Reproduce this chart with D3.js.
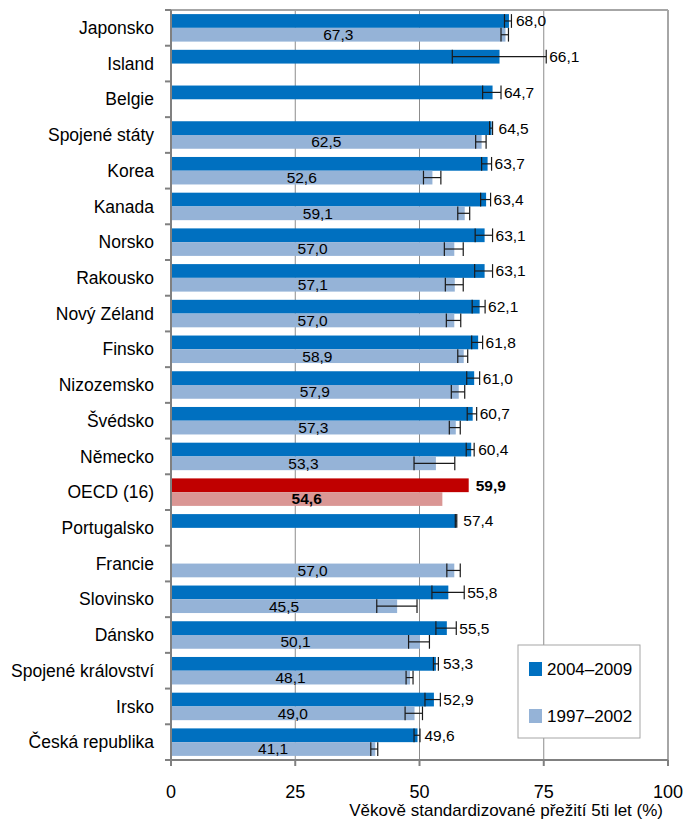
<!DOCTYPE html>
<html>
<head>
<meta charset="utf-8">
<script src="https://cdn.jsdelivr.net/npm/d3@7"></script>
<style>
  body { margin: 0; background: #fff; }
  svg { display: block; font-family: "Liberation Sans", Arial, sans-serif; }
</style>
</head>
<body>
<div id="chart"></div>
<script>
// categories, top to bottom
const categories = ["Japonsko", "Island", "Belgie", "Spojené státy", "Korea", "Kanada", "Norsko",
  "Rakousko", "Nový Zéland", "Finsko", "Nizozemsko", "Švédsko", "Německo", "OECD (16)",
  "Portugalsko", "Francie", "Slovinsko", "Dánsko", "Spojené království", "Irsko", "Česká republika"];

// 2004–2009
const recent = [68.0, 66.1, 64.7, 64.5, 63.7, 63.4, 63.1, 63.1, 62.1, 61.8, 61.0, 60.7, 60.4, 59.9,
  57.4, null, 55.8, 55.5, 53.3, 52.9, 49.6];
const recentLow = [67.1, 56.6, 62.7, 64.1, 62.5, 62.3, 61.2, 61.1, 60.6, 60.5, 59.5, 59.6, 59.4, null,
  57.2, null, 52.5, 53.3, 52.8, 51.1, 48.9];
const recentHigh = [68.5, 75.5, 66.4, 64.7, 64.5, 64.3, 64.7, 64.7, 63.2, 62.7, 62.1, 61.5, 61.0, null,
  57.5, null, 59.0, 57.4, 53.8, 54.2, 50.1];

// 1997–2002
const earlier = [67.3, null, null, 62.5, 52.6, 59.1, 57.0, 57.1, 57.0, 58.9, 57.9, 57.3, 53.3, 54.6,
  null, 57.0, 45.5, 50.1, 48.1, 49.0, 41.1];
const earlierLow = [66.4, null, null, 61.3, 50.8, 57.7, 55.0, 55.2, 55.4, 57.7, 56.4, 56.0, 48.9, null,
  null, 55.5, 41.4, 47.8, 47.3, 47.1, 40.2];
const earlierHigh = [67.9, null, null, 63.4, 54.3, 60.1, 58.8, 58.8, 58.3, 59.7, 59.1, 58.2, 57.1, null,
  null, 58.2, 49.5, 52.0, 48.7, 50.6, 41.6];

const seriesNames = ["2004–2009", "1997–2002"];
const xTicks = [0, 25, 50, 75, 100];
const highlight = "OECD (16)";
const xTitle = "Věkově standardizované přežití 5ti let (%)";

const W = 696, H = 825;
const margin = {top: 10, right: 28, bottom: 65, left: 171};
const width = W - margin.left - margin.right,
      height = H - margin.top - margin.bottom;

const svg = d3.select("#chart").append("svg")
  .attr("width", W).attr("height", H);
const g = svg.append("g")
  .attr("transform", `translate(${margin.left}, ${margin.top})`);

const x = d3.scaleLinear().domain([0, 100]).range([0, width]);
const y = d3.scaleBand().domain(categories).range([0, height])
  .paddingInner(0.23).paddingOuter(0.115);
const ySub = d3.scaleBand().domain(["recent", "earlier"]).range([0, y.bandwidth()]);

// gridlines
g.selectAll(".grid")
  .data(xTicks.filter(t => t > 0 && t < 100))
  .join("line")
    .attr("x1", d => x(d)).attr("x2", d => x(d))
    .attr("y1", 0).attr("y2", height)
    .attr("stroke", "#8c8c8c").attr("stroke-width", 1);

// frame top / right
g.append("line").attr("x1", 0).attr("x2", x(100)).attr("y1", 0).attr("y2", 0)
  .attr("stroke", "#a6a6a6").attr("stroke-width", 2);
g.append("line").attr("x1", x(100)).attr("x2", x(100)).attr("y1", 0).attr("y2", height)
  .attr("stroke", "#a6a6a6").attr("stroke-width", 2);

const rows = categories.map((c, i) => ({
  cat: c, i,
  hot: c === highlight,
  recent: recent[i], rLo: recentLow[i], rHi: recentHigh[i],
  earlier: earlier[i], eLo: earlierLow[i], eHi: earlierHigh[i]
}));

const bh = ySub.bandwidth();

// bars
g.selectAll(".bar-r")
  .data(rows.filter(d => d.recent != null))
  .join("rect")
    .attr("x", 0)
    .attr("y", d => y(d.cat) + ySub("recent"))
    .attr("width", d => x(d.recent))
    .attr("height", bh)
    .attr("fill", d => d.hot ? "#c00000" : "#0070c0");

g.selectAll(".bar-e")
  .data(rows.filter(d => d.earlier != null))
  .join("rect")
    .attr("x", 0)
    .attr("y", d => y(d.cat) + ySub("earlier"))
    .attr("width", d => x(d.earlier))
    .attr("height", bh)
    .attr("fill", d => d.hot ? "#da9694" : "#95b3d7");

// error bars
function errorBars(data, key, lo, hi) {
  const eg = g.append("g").attr("stroke", "#1a1a1a").attr("stroke-width", 1.2);
  data.filter(d => d[lo] != null).forEach(d => {
    const yc = y(d.cat) + ySub(key) + bh / 2;
    eg.append("line").attr("x1", x(d[lo])).attr("x2", x(d[hi]))
      .attr("y1", yc).attr("y2", yc);
    [d[lo], d[hi]].forEach(v => {
      eg.append("line").attr("x1", x(v)).attr("x2", x(v))
        .attr("y1", yc - bh / 2).attr("y2", yc + bh / 2);
    });
  });
}
errorBars(rows, "recent", "rLo", "rHi");
errorBars(rows, "earlier", "eLo", "eHi");

// value labels
g.selectAll(".lab-r")
  .data(rows.filter(d => d.recent != null))
  .join("text")
    .attr("x", d => Math.max(x(d.recent) + 7, d.rHi != null ? x(d.rHi) + 3 : 0))
    .attr("y", d => y(d.cat) + ySub("recent") + bh / 2)
    .attr("dy", "0.35em")
    .attr("font-size", "15.5px")
    .attr("font-weight", d => d.hot ? "bold" : "normal")
    .attr("fill", "#000")
    .text(d => d3.format(".1f")(d.recent).replace(".", ","));

g.selectAll(".lab-e")
  .data(rows.filter(d => d.earlier != null))
  .join("text")
    .attr("x", d => x(d.earlier) / 2)
    .attr("y", d => y(d.cat) + ySub("earlier") + bh / 2)
    .attr("dy", "0.35em")
    .attr("text-anchor", "middle")
    .attr("font-size", "15.5px")
    .attr("font-weight", d => d.hot ? "bold" : "normal")
    .attr("fill", "#000")
    .text(d => d3.format(".1f")(d.earlier).replace(".", ","));

// y axis: line, tick marks between categories, labels
g.append("line").attr("x1", 0).attr("x2", 0).attr("y1", 0).attr("y2", height)
  .attr("stroke", "#808080").attr("stroke-width", 2);
g.selectAll(".ytick")
  .data(d3.range(categories.length + 1))
  .join("line")
    .attr("x1", -6).attr("x2", 0)
    .attr("y1", i => y.range()[0] + i * y.step())
    .attr("y2", i => y.range()[0] + i * y.step())
    .attr("stroke", "#808080").attr("stroke-width", 2);
g.selectAll(".ycat")
  .data(categories)
  .join("text")
    .attr("x", -17)
    .attr("y", d => y(d) + y.bandwidth() / 2)
    .attr("dy", "0.35em")
    .attr("text-anchor", "end")
    .attr("font-size", "17.5px")
    .attr("fill", "#000")
    .text(d => d);

// x axis
g.append("line").attr("x1", 0).attr("x2", x(100)).attr("y1", height).attr("y2", height)
  .attr("stroke", "#808080").attr("stroke-width", 2);
g.selectAll(".xtick")
  .data(xTicks)
  .join("line")
    .attr("x1", d => x(d)).attr("x2", d => x(d))
    .attr("y1", height).attr("y2", height + 6)
    .attr("stroke", "#808080").attr("stroke-width", 2);
g.selectAll(".xlab")
  .data(xTicks)
  .join("text")
    .attr("x", d => x(d))
    .attr("y", height + 38)
    .attr("text-anchor", "middle")
    .attr("font-size", "18px")
    .attr("fill", "#000")
    .text(d => d);
g.append("text")
  .attr("x", x(100) - 5)
  .attr("y", height + 56)
  .attr("text-anchor", "end")
  .attr("font-size", "17px")
  .attr("fill", "#000")
  .text(xTitle);

// legend
const lg = svg.append("g").attr("transform", "translate(518, 645)");
lg.append("rect").attr("width", 122).attr("height", 93)
  .attr("fill", "#fff").attr("stroke", "#a6a6a6").attr("stroke-width", 1);
const legendColors = ["#0070c0", "#95b3d7"];
seriesNames.forEach((s, i) => {
  const yy = 24 + i * 47;
  lg.append("rect").attr("x", 11).attr("y", yy - 7).attr("width", 13).attr("height", 14)
    .attr("fill", legendColors[i]);
  lg.append("text").attr("x", 29).attr("y", yy).attr("dy", "0.35em")
    .attr("font-size", "17px").attr("fill", "#000").text(s);
});
</script>
</body>
</html>
